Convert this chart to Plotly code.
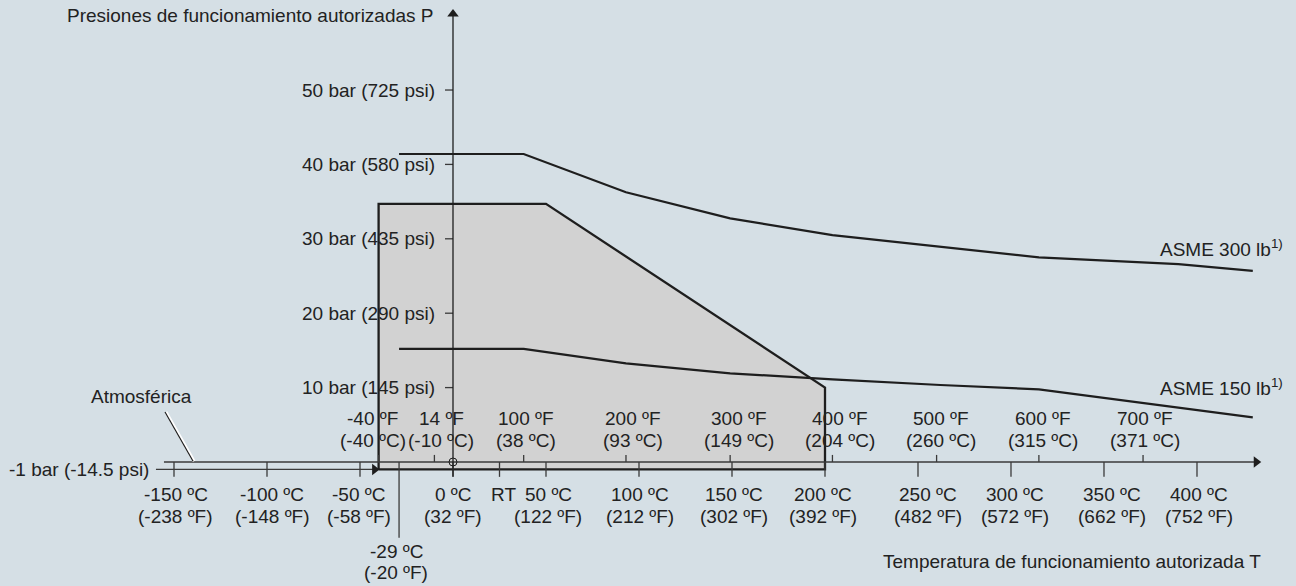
import plotly.graph_objects as go

# ---------------- data ----------------
c_ticks = [-150, -100, -50, 0, 50, 100, 150, 200, 250, 300, 350, 400]
c_tick_f = [-238, -148, -58, 32, 122, 212, 302, 392, 482, 572, 662, 752]
f_ticks = [-40, 14, 100, 200, 300, 400, 500, 600, 700]
f_tick_c = [-40, -10, 38, 93, 149, 204, 260, 315, 371]
p_ticks = [50, 40, 30, 20, 10]
p_psi = [725, 580, 435, 290, 145]
atm_bar = -1
atm_psi = -14.5
rt_c = 25
min_t_c = -29
min_t_f = -20

asme300_t = [-29, 38, 93, 149, 204, 262, 315, 390, 430]
asme300_p = [41.4, 41.4, 36.25, 32.75, 30.5, 28.9, 27.5, 26.6, 25.7]
asme150_t = [-29, 38, 93, 149, 204, 262, 315, 430]
asme150_p = [15.2, 15.2, 13.26, 11.92, 11.1, 10.35, 9.77, 6.0]
range_t = [-40, -40, 50, 200, 200, -40]
range_p = [-1, 34.7, 34.7, 10.0, -1, -1]

# ---------------- style ----------------
W, H = 1296, 586
X_RANGE = [-243.55, 453.23]
Y_RANGE = [-16.67, 62.10]
BG = "#d5dfe5"
FILL = "#d2d2d2"
INK = "#1e1e1e"
AXC = "#3a3a3a"
FONT = dict(family="Liberation Sans, Arial, sans-serif", size=19, color="#222222")

def px_x(dx):
    return dx * (X_RANGE[1] - X_RANGE[0]) / W

def px_y(dy):
    return dy * (Y_RANGE[1] - Y_RANGE[0]) / H

fig = go.Figure()

def line(xs, ys, color=INK, width=1.3, **kw):
    fig.add_trace(go.Scatter(x=xs, y=ys, mode="lines", line=dict(color=color, width=width),
                             hoverinfo="skip", showlegend=False, **kw))

# permitted range (grey area)
fig.add_trace(go.Scatter(x=range_t, y=range_p, mode="lines", fill="toself", fillcolor=FILL,
                         line=dict(color=INK, width=2.3), hoverinfo="skip", showlegend=False))

axis_end = 434
# temperature axis at 0 bar
line([-155.4, axis_end - px_x(6)], [0, 0], color=AXC, width=1.3)
# -1 bar line
line([-159.7, range_t[0] - px_x(5)], [atm_bar, atm_bar], color=AXC, width=1.3)

# degC ticks (below)
tx, ty = [], []
for t in c_ticks + [rt_c]:
    tx += [t, t, None]
    ty += [0, -2.0, None]
line(tx, ty, color=AXC, width=1.3)
# degF ticks (above)
tx, ty = [], []
for t in f_tick_c:
    tx += [t, t, None]
    ty += [0, 0.95, None]
line(tx, ty, color=AXC, width=1.3)
# pressure ticks
tx, ty = [], []
for p in p_ticks:
    tx += [-px_x(8), 0, None]
    ty += [p, p, None]
line(tx, ty, color=AXC, width=1.3)
# y axis
line([0, 0], [-2.0, 60.75 - px_y(6)], color=INK, width=1.3)
# -29 degC marker line
line([min_t_c, min_t_c], [0, -10.2], color=AXC, width=1.3)

# Atmosférica leader line
line([-154.3, -139.2], [6.72, 0.1], color="#ffffff", width=3)
line([-154.3 - px_x(1), -139.2 - px_x(1)], [6.72, 0.1], color=INK, width=1.2)

# ASME curves
line(asme300_t, asme300_p, color=INK, width=2.2)
line(asme150_t, asme150_p, color=INK, width=2.2)

# arrowheads and origin circle
fig.add_trace(go.Scatter(x=[axis_end - px_x(4)], y=[0], mode="markers",
                         marker=dict(symbol="triangle-right", size=10, color=INK),
                         hoverinfo="skip", showlegend=False))
fig.add_trace(go.Scatter(x=[range_t[0] - px_x(4)], y=[atm_bar], mode="markers",
                         marker=dict(symbol="triangle-right", size=10, color=INK),
                         hoverinfo="skip", showlegend=False))
fig.add_trace(go.Scatter(x=[0], y=[60.75 - px_y(4)], mode="markers",
                         marker=dict(symbol="triangle-up", size=10, color=INK),
                         hoverinfo="skip", showlegend=False))
fig.add_trace(go.Scatter(x=[0], y=[0], mode="markers",
                         marker=dict(symbol="circle-open", size=8, color=INK, line=dict(width=1)),
                         hoverinfo="skip", showlegend=False))

ann = []
def text(x, y, s, xanchor="center", xshift=0, yshift=0, yanchor="middle"):
    ann.append(dict(x=x, y=y, text=s, showarrow=False, xanchor=xanchor, yanchor=yanchor,
                    xshift=xshift, yshift=yshift, font=FONT))

# pressure labels
for p, psi in zip(p_ticks, p_psi):
    text(0, p, f"{p} bar ({psi} psi)", xanchor="right", xshift=-16)
text(-162.4, atm_bar, f"{atm_bar} bar ({atm_psi} psi)", xanchor="right")
text(0, 59.95, "Presiones de funcionamiento autorizadas P", xanchor="right", xshift=-17)
text(435.5, -13.44, "Temperatura de funcionamiento autorizada T", xanchor="right")

# degC labels below axis
c_shift = [1.5, 5, -1.5, 0, 2, 1, 2, -2, 10, 4, 8, 2]
for t, f, s in zip(c_ticks, c_tick_f, c_shift):
    text(t, 0, f"{t} ºC", xshift=s, yshift=-33)
    text(t, 0, f"({f} ºF)", xshift=s, yshift=-55)
text(rt_c, 0, "RT", xshift=4, yshift=-33)

# degF labels above axis
f_shift = [-6, 7, 2, 7, 9, 8, 4, 4, 2]
for f, c, s in zip(f_ticks, f_tick_c, f_shift):
    text(c, 0, f"{f} ºF", xshift=s, yshift=43)
    text(c, 0, f"({c} ºC)", xshift=s, yshift=21)

# minimum temperature
text(min_t_c, 0, f"{min_t_c} ºC", xshift=-3, yshift=-90)
text(min_t_c, 0, f"({min_t_f} ºF)", xshift=-3, yshift=-111)

# curve labels
text(447.3, 28.76, "ASME 300 lb<sup>1)</sup>", xanchor="right")
text(447.3, 10.12, "ASME 150 lb<sup>1)</sup>", xanchor="right")
text(-167.7, 8.74, "Atmosférica")

fig.update_layout(
    width=W, height=H, margin=dict(l=0, r=0, t=0, b=0),
    paper_bgcolor=BG, plot_bgcolor=BG, showlegend=False,
    xaxis=dict(range=X_RANGE, visible=False, fixedrange=True),
    yaxis=dict(range=Y_RANGE, visible=False, fixedrange=True),
    annotations=ann,
)
fig.write_html("out.html")
